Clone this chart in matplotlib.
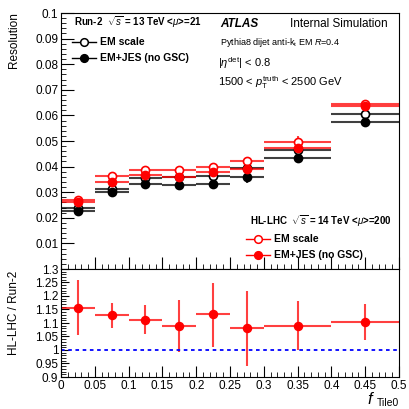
import numpy as np
import matplotlib
matplotlib.use("Agg")
import matplotlib.pyplot as plt
from matplotlib.ticker import MultipleLocator, FixedLocator

plt.rcParams['font.family'] = ['Liberation Sans', 'DejaVu Sans']
plt.rcParams['mathtext.fontset'] = 'custom'
plt.rcParams['mathtext.rm'] = 'Liberation Sans'
plt.rcParams['mathtext.it'] = 'Liberation Sans:italic'
plt.rcParams['mathtext.bf'] = 'Liberation Sans:bold'

# bins in f_Tile0
edges = [0, 0.05, 0.1, 0.15, 0.2, 0.25, 0.3, 0.4, 0.5]

# Run-2
run2_em = [0.0237, 0.0313, 0.0355, 0.0358, 0.0362, 0.0394, 0.0464, 0.0605]
run2_em_err = [0.0008, 0.0007, 0.0008, 0.0010, 0.0015, 0.0015, 0.0015, 0.0015]
run2_jes = [0.0227, 0.0301, 0.0333, 0.0327, 0.0332, 0.0359, 0.0435, 0.0573]
run2_jes_err = [0.0010, 0.0007, 0.0009, 0.0013, 0.0020, 0.0022, 0.0017, 0.0017]

# HL-LHC
hl_em = [0.0268, 0.0363, 0.0385, 0.0385, 0.0400, 0.0422, 0.0496, 0.0644]
hl_em_err = [0.0008, 0.0007, 0.0008, 0.0010, 0.0012, 0.0015, 0.0022, 0.0015]
hl_jes = [0.0263, 0.0338, 0.0368, 0.0358, 0.0378, 0.0390, 0.0474, 0.0635]
hl_jes_err = [0.0008, 0.0007, 0.0009, 0.0013, 0.0017, 0.0015, 0.0017, 0.0017]

# ratio HL-LHC / Run-2
ratio = [1.157, 1.130, 1.112, 1.089, 1.133, 1.081, 1.089, 1.103]
ratio_up = [1.258, 1.174, 1.165, 1.186, 1.250, 1.217, 1.180, 1.170]
ratio_dn = [1.056, 1.081, 1.060, 0.994, 1.010, 0.942, 1.000, 1.037]

edges = np.array(edges)
xc = 0.5 * (edges[1:] + edges[:-1])
xw = 0.5 * (edges[1:] - edges[:-1])

W, H = 410, 409
fig = plt.figure(figsize=(W / 100, H / 100), dpi=100)
ax = fig.add_axes([61 / W, 1 - 269 / H, 338 / W, 256 / H])
rx = fig.add_axes([61 / W, 1 - 377 / H, 338 / W, 108 / H])

def fx(px):
    return px / W

def fy(py):
    return 1 - py / H

def draw(a, y, ye, col, filled):
    a.errorbar(xc, y, xerr=xw, yerr=ye, fmt='none', ecolor=col, elinewidth=1.5,
               alpha=0.75, capsize=0)
    a.plot(xc, y, 'o', ms=5.8, mec=col, mew=1.2,
           mfc=col if filled else 'white', zorder=5)

draw(ax, run2_em, run2_em_err, 'black', False)
draw(ax, run2_jes, run2_jes_err, 'black', True)
draw(ax, hl_em, hl_em_err, 'red', False)
draw(ax, hl_jes, hl_jes_err, 'red', True)

ax.set_xlim(0, 0.5)
ax.set_ylim(0, 0.1)
ax.yaxis.set_major_locator(FixedLocator([0.01, 0.02, 0.03, 0.04, 0.05, 0.06, 0.07, 0.08, 0.09, 0.1]))
ax.set_yticklabels(['0.01', '0.02', '0.03', '0.04', '0.05', '0.06', '0.07', '0.08', '0.09', '0.1'])
ax.yaxis.set_minor_locator(MultipleLocator(0.002))
ax.xaxis.set_major_locator(MultipleLocator(0.05))
ax.xaxis.set_minor_locator(MultipleLocator(0.01))
ax.set_xticklabels([])

# ratio panel
rdn = np.array(ratio) - np.array(ratio_dn)
rup = np.array(ratio_up) - np.array(ratio)
rx.errorbar(xc, ratio, xerr=xw, yerr=[rdn, rup], fmt='none', ecolor='red',
            elinewidth=1.5, alpha=0.75, capsize=0)
rx.plot(xc, ratio, 'o', ms=5.8, color='red', zorder=5)
rx.axhline(1.0, color='blue', ls=(0, (2, 2)), lw=1.3)
rx.set_xlim(0, 0.5)
rx.set_ylim(0.9, 1.3)
rx.yaxis.set_minor_locator(MultipleLocator(0.01))
rx.xaxis.set_minor_locator(MultipleLocator(0.01))
rx.set_yticks(np.arange(0.9, 1.301, 0.05))
rx.set_yticklabels(['0.9', '0.95', '1', '1.05', '1.1', '1.15', '1.2', '1.25', '1.3'])
rx.set_xticks(np.arange(0, 0.501, 0.05))
rx.set_xticklabels(['0', '0.05', '0.1', '0.15', '0.2', '0.25', '0.3', '0.35', '0.4', '0.45', '0.5'])

for a in (ax, rx):
    a.tick_params(which='both', direction='in', top=False, right=False, labelsize=8.5, pad=2)
    a.tick_params(which='minor', length=3.5)
ax.tick_params(which='major', length=9)
rx.tick_params(which='major', length=6)
rx.tick_params(axis='x', which='major', length=8)

# axis titles
fig.text(fx(14), fy(12), 'Resolution', rotation=90, ha='center', va='top', fontsize=8.5)
fig.text(fx(14), fy(271), 'HL-LHC / Run-2', rotation=90, ha='center', va='top', fontsize=8.5)
fig.text(fx(367), fy(404), r'$f$', ha='left', va='baseline', fontsize=12)
fig.text(fx(377), fy(406), 'Tile0', ha='left', va='baseline', fontsize=7.5)

def legend_entry(x_marker, y_base, col, filled, label):
    y = fy(y_base - 3.5)
    fig.add_artist(plt.Line2D([fx(x_marker - 12), fx(x_marker + 12)], [y, y],
                              color=col, lw=1, transform=fig.transFigure))
    fig.add_artist(plt.Line2D([fx(x_marker)], [y], marker='o', ms=5.5, mec=col,
                              mfc=col if filled else 'white', mew=1.1,
                              transform=fig.transFigure))
    fig.text(fx(x_marker + 16), fy(y_base), label, fontsize=7.5, weight='bold')

# Run-2 legend
fig.text(fx(74), fy(26), r'Run-2  $\sqrt{s}$ = 13 TeV <$\mu$>=21', fontsize=7, weight='bold')
legend_entry(84, 45, 'black', False, 'EM scale')
legend_entry(84, 61, 'black', True, 'EM+JES (no GSC)')

# HL-LHC legend
fig.text(fx(250), fy(225), r'HL-LHC  $\sqrt{s}$ = 14 TeV <$\mu$>=200', fontsize=7, weight='bold')
legend_entry(258, 242, 'red', False, 'EM scale')
legend_entry(258, 258, 'red', True, 'EM+JES (no GSC)')

# ATLAS labels
fig.text(fx(220), fy(27), 'ATLAS', fontsize=8.5, weight='bold', style='italic')
fig.text(fx(290), fy(27), 'Internal Simulation', fontsize=8.5)
fig.text(fx(220), fy(45), r'Pythia8 dijet anti-k$_{\rm t}$ EM $R$=0.4', fontsize=6.5)
fig.text(fx(218), fy(67), r'|$\eta^{\rm det}$| < 0.8', fontsize=8)
fig.text(fx(218), fy(86), r'1500 < $p_{\rm T}^{\rm truth}$ < 2500 GeV', fontsize=8)

fig.savefig('out.png', dpi=100)
